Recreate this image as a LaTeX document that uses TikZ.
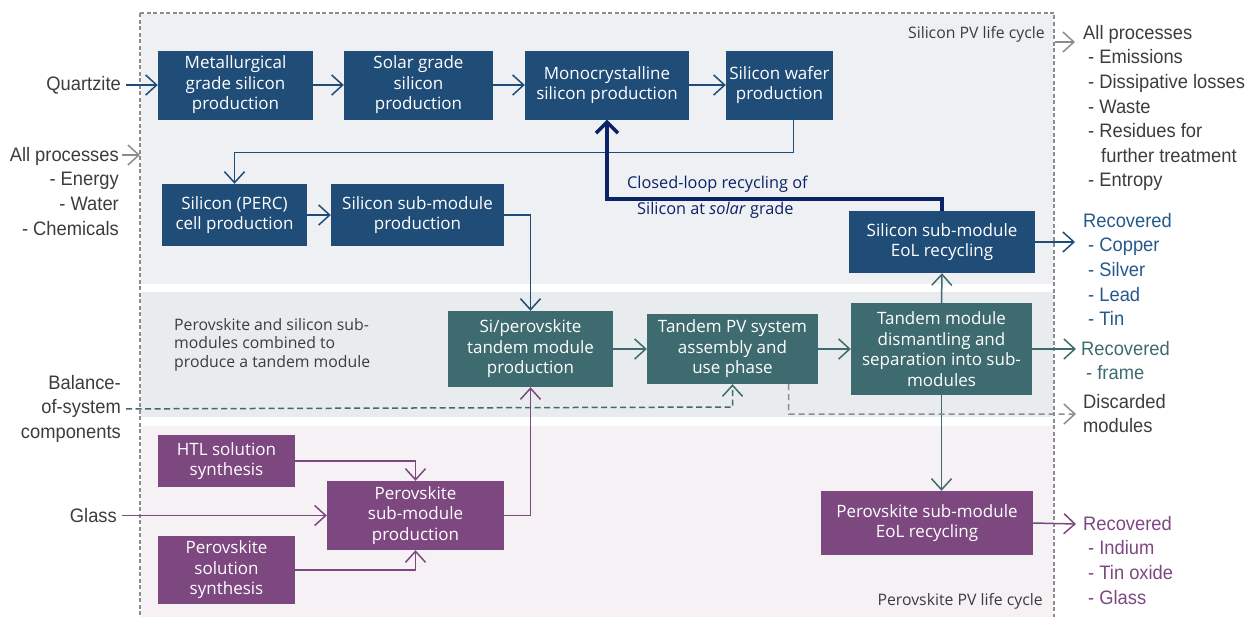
\documentclass[tikz,border=0pt]{standalone}
\usepackage{fontspec}
\setmainfont{Open Sans}
\newfontfamily\sidefont[FakeStretch=0.94]{Liberation Sans}
\usetikzlibrary{arrows.meta,calc}
\definecolor{sinavy}{RGB}{31,77,120}
\definecolor{sitext}{RGB}{37,88,140}
\definecolor{tealc}{RGB}{62,107,112}
\definecolor{purp}{RGB}{125,71,128}
\definecolor{loopnavy}{RGB}{12,34,102}
\definecolor{bgsi}{RGB}{238,240,244}
\definecolor{bgtan}{RGB}{233,236,238}
\definecolor{bgper}{RGB}{245,241,245}
\definecolor{txtgray}{RGB}{60,60,60}
\definecolor{dashgray}{RGB}{140,140,140}
\tikzset{
  procbox/.style={text=white, align=center, inner sep=0pt, font=\fontsize{17}{20.5}\selectfont},
  sibox/.style={procbox, fill=sinavy},
  tanbox/.style={procbox, fill=tealc},
  perbox/.style={procbox, fill=purp},
  sidetxt/.style={inner sep=0pt, text=txtgray, font=\sidefont\fontsize{19.5}{24.6}\selectfont},
  smalllbl/.style={inner sep=0pt, text=txtgray, font=\fontsize{15.8}{18.4}\selectfont},
  barb/.style={-{Straight Barb[length=11pt,width=20pt,line width=1.5pt]}, line width=1.5pt},
  siar/.style={barb, draw=sinavy},
  tar/.style={barb, draw=tealc},
  par/.style={barb, draw=purp},
  grar/.style={barb, draw=dashgray},
  looparrow/.style={-{Straight Barb[length=11pt,width=22pt,line width=3.5pt]}, line width=3.5pt, draw=loopnavy},
}
\begin{document}
\begin{tikzpicture}[x=1pt,y=-1pt]
\useasboundingbox (0,0) rectangle (1247,616);
% background bands
\fill[bgsi] (141,14) rectangle (1053,284);
\fill[bgtan] (141,292) rectangle (1053,417);
\fill[bgper] (141,426) rectangle (1053,620);
\draw[dashgray, line width=1.3pt, dash pattern=on 4pt off 2.5pt] (140,13) -- (1054,13) -- (1054,625) (140,13) -- (140,625);
% band labels
\node[smalllbl, anchor=north east] (silc) at (1045,26) {Silicon PV life cycle};
\node[smalllbl, anchor=north east] (perlc) at (1043,593) {Perovskite PV life cycle};
\node[smalllbl, anchor=north west, align=left] (tanlbl) at (174,318) {Perovskite and silicon sub-\\modules combined to\\produce a tandem module};
% silicon chain
\node[sibox, minimum width=155pt, minimum height=69pt] (met) at (235.5,85) {Metallurgical\\grade silicon\\production};
\node[sibox, minimum width=149pt, minimum height=69pt] (sol) at (418.5,85) {Solar grade\\silicon\\production};
\node[sibox, minimum width=164pt, minimum height=69pt] (mono) at (607,85) {Monocrystalline\\silicon production};
\node[sibox, minimum width=107pt, minimum height=69pt] (wafer) at (779.5,85) {Silicon wafer\\production};
\node[sibox, minimum width=145pt, minimum height=62pt] (perc) at (234.5,215) {Silicon (PERC)\\cell production};
\node[sibox, minimum width=173pt, minimum height=62pt] (simod) at (417.5,215) {Silicon sub-module\\production};
\node[sibox, minimum width=186pt, minimum height=62pt] (sieol) at (942,242) {Silicon sub-module\\EoL recycling};
% tandem
\node[tanbox, minimum width=165pt, minimum height=76pt] (sipero) at (530.5,349) {Si/perovskite\\tandem module\\production};
\node[tanbox, minimum width=171pt, minimum height=70pt] (tpv) at (732.5,349) {Tandem PV system\\assembly and\\use phase};
\node[tanbox, minimum width=181pt, minimum height=92pt] (dism) at (941.5,349) {Tandem module\\dismantling and\\separation into sub-\\modules};
% perovskite
\node[perbox, minimum width=137pt, minimum height=52pt] (htl) at (226.5,461) {HTL solution\\synthesis};
\node[perbox, minimum width=177pt, minimum height=69pt] (pmod) at (415.5,515.5) {Perovskite\\sub-module\\production};
\node[perbox, minimum width=137pt, minimum height=68pt] (psol) at (226.5,570) {Perovskite\\solution\\synthesis};
\node[perbox, minimum width=212pt, minimum height=64pt] (peol) at (927,523) {Perovskite sub-module\\EoL recycling};
% left texts
\node[sidetxt, anchor=east] (quartz) at (121,85) {Quartzite};
\node[sidetxt, anchor=north east, align=right] (allin) at (119,147) {All processes\\- Energy\\- Water\\- Chemicals};
\node[sidetxt, anchor=north east, align=right] (bos) at (121,375) {Balance-\\of-system\\components};
\node[sidetxt, anchor=east] (glass) at (117,515.5) {Glass};
% right texts
\node[sidetxt, anchor=north west, align=left] (allout) at (1083,25) {All processes\\\hspace{5pt}- Emissions\\\hspace{5pt}- Dissipative losses\\\hspace{5pt}- Waste\\\hspace{5pt}- Residues for\\\hspace{18pt}further treatment\\\hspace{5pt}- Entropy};
\node[sidetxt, anchor=north west, align=left, text=sitext] (recsi) at (1083,213) {Recovered\\\hspace{5pt}- Copper\\\hspace{5pt}- Silver\\\hspace{5pt}- Lead\\\hspace{5pt}- Tin};
\node[sidetxt, anchor=north west, align=left, text=tealc] (rectan) at (1081,341) {Recovered\\\hspace{5pt}- frame};
\node[sidetxt, anchor=north west, align=left] (disc) at (1083,394) {Discarded\\modules};
\node[sidetxt, anchor=north west, align=left, text=purp] (recper) at (1083,516) {Recovered\\\hspace{5pt}- Indium\\\hspace{5pt}- Tin oxide\\\hspace{5pt}- Glass};
% coordinates for free ends
\coordinate (inend) at (140,155);
\coordinate (outstart) at (1055,42);
\coordinate (outend) at (1075,42);
\coordinate (cuend) at (1075,242);
\coordinate (frend) at (1076,349);
\coordinate (discend) at (1076,414);
\coordinate (inend2) at (1076,524);
% silicon connectors
\draw[siar] ([xshift=5pt]quartz.east) -- (met.west);
\draw[siar] (met) -- (sol);
\draw[siar] (sol) -- (mono);
\draw[siar] (mono) -- (wafer);
\draw[siar] ($(wafer.south)+(14,0)$) -- ++(0,33) -| (perc.north);
\draw[siar] (perc) -- (simod);
\draw[siar] (simod.east) -| (sipero.north);
\draw[siar] (sieol.east) -- (cuend);
\draw[looparrow] (sieol.north) -- ++(0,-12) -| (mono.south);
\node[anchor=north west, inner sep=0pt, text=loopnavy, align=left, font=\fontsize{16.3}{26}\selectfont] (looplbl) at (627,176) {Closed-loop recycling of\\\hspace{10pt}Silicon at \textit{solar} grade};
% tandem connectors
\draw[tar] (sipero) -- (tpv);
\draw[tar] (tpv) -- (dism);
\draw[tar] (dism.north) -- (sieol.south);
\draw[tar] (dism.south) -- (dism.south |- peol.north);
\draw[tar] (dism.east) -- (frend);
\draw[tar, dash pattern=on 6pt off 3.5pt] ([xshift=5pt]bos.east) -- (732.5,407) -- (tpv.south);
\draw[grar, dash pattern=on 6pt off 4pt] ($(tpv.south)+(56,0)$) -- ++(0,30) -- (discend);
% perovskite connectors
\draw[par] (htl.east) -| (pmod.north);
\draw[par] (psol.east) -| (pmod.south);
\draw[par] ([xshift=5pt]glass.east) -- (pmod.west);
\draw[par] (pmod.east) -| (sipero.south);
\draw[par] (peol.east) -- (inend2);
% gray
\draw[grar] (122,155) -- (inend);
\draw[grar] (outstart) -- (outend);
\end{tikzpicture}
\end{document}
